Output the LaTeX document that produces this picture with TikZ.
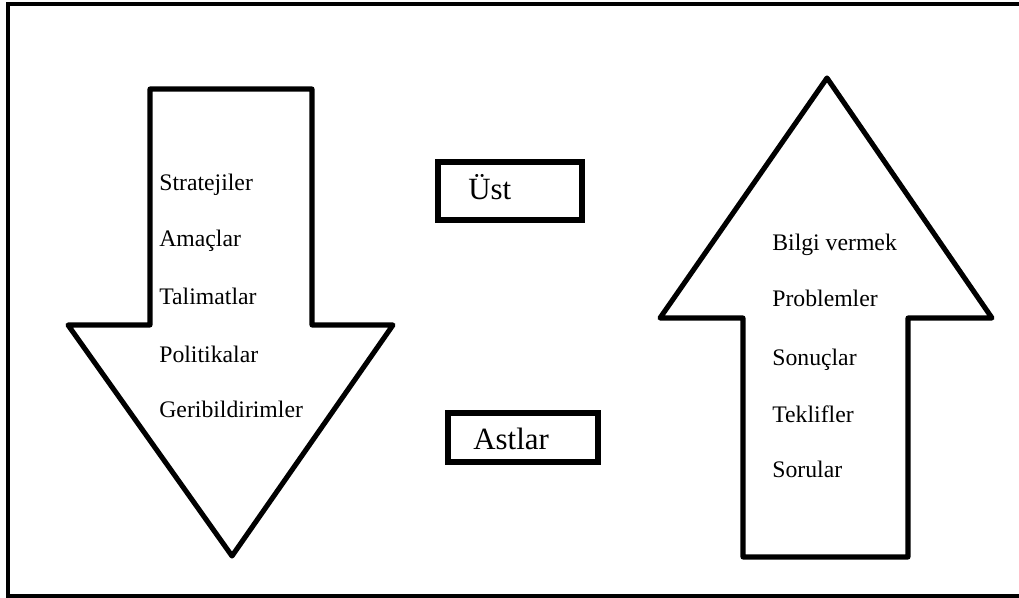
\documentclass[tikz,border=0pt]{standalone}
\usepackage{fontspec}
\setmainfont{Liberation Serif}
\usetikzlibrary{positioning}

\begin{document}
\begin{tikzpicture}[x=0.02cm, y=-0.02cm,
    frameline/.style={line width=2.3pt, black},
    arrowline/.style={line width=2.9pt, black, line join=round},
    levelbox/.style={draw, line width=3.4pt, inner sep=0pt},
    itemtext/.style={anchor=base west, inner sep=0pt, font=\fontsize{13.5}{16}\selectfont},
    leveltext/.style={anchor=base west, inner sep=0pt, font=\fontsize{17.6}{21}\selectfont}]
  \useasboundingbox (0,0) rectangle (1019,598);

  % Outer frame
  \draw[frameline] (1019,4) -- (8,4) -- (8,596) -- (1019,596);

  % Down arrow
  \draw[arrowline] (150,89) -- (312,89) -- (312,325) -- (393,325) -- (232,556)
    -- (68,325) -- (150,325) -- cycle;

  % Up arrow
  \draw[arrowline] (743,557) -- (908,557) -- (908,318) -- (992,318) -- (827,78)
    -- (660,318) -- (743,318) -- cycle;

  % Level boxes
  \node[levelbox, minimum width=2.88cm, minimum height=1.16cm] (ust) at (510,191) {};
  \node[leveltext] (usttext) at (468,200) {Üst};
  \node[levelbox, minimum width=3.00cm, minimum height=0.98cm] (astlar) at (523,437.5) {};
  \node[leveltext] (astlartext) at (473,449) {Astlar};

  % Top-down items
  \node[itemtext] (strateji) at (159,191) {Stratejiler};
  \node[itemtext] (amac) at (159,247) {Amaçlar};
  \node[itemtext] (talimat) at (159,305) {Talimatlar};
  \node[itemtext] (politika) at (159,362) {Politikalar};
  \node[itemtext] (geribildirim) at (159,418) {Geribildirimler};

  % Bottom-up items
  \node[itemtext] (bilgi) at (772,251) {Bilgi vermek};
  \node[itemtext] (problem) at (772,307) {Problemler};
  \node[itemtext] (sonuc) at (772,365) {Sonuçlar};
  \node[itemtext] (teklif) at (772,422) {Teklifler};
  \node[itemtext] (soru) at (772,478) {Sorular};
\end{tikzpicture}
\end{document}
